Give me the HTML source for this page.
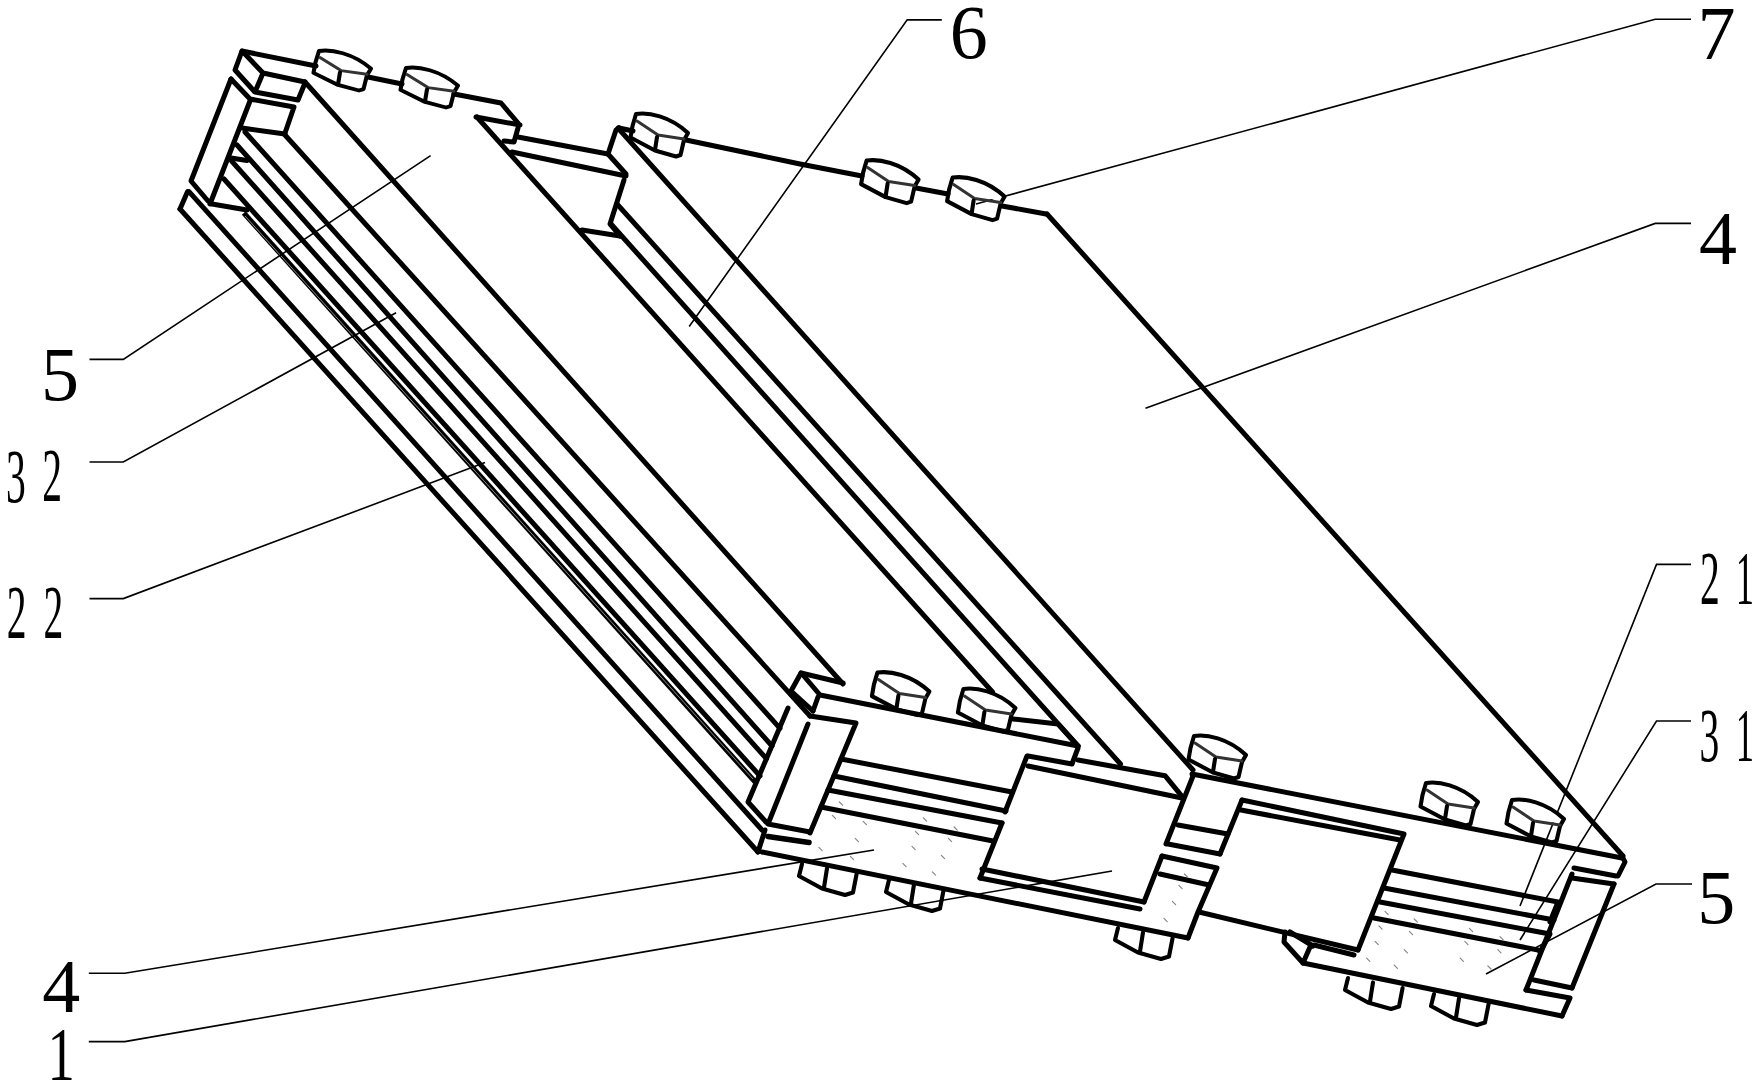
<!DOCTYPE html><html><head><meta charset="utf-8"><style>html,body{margin:0;padding:0;background:#fff;overflow:hidden}svg{display:block}</style></head><body><svg width="1760" height="1090" viewBox="0 0 1760 1090">
<style>.k{fill:none;stroke:#000;stroke-width:5.0;stroke-linecap:round;stroke-linejoin:round}.t{fill:none;stroke:#000;stroke-width:1.6;stroke-linecap:butt;stroke-linejoin:miter}.a3{fill:none;stroke:#000;stroke-width:5.2}.a3s{fill:none;stroke:#999;stroke-width:0.9}.b{fill:none;stroke:#000;stroke-width:4.1;stroke-linejoin:round;stroke-linecap:round}.bi{fill:none;stroke:#333;stroke-width:3.0;stroke-linejoin:round;stroke-linecap:round}.bf{fill:#fff;stroke:none}.h{stroke:#888;stroke-width:1.2;stroke-linecap:round}.lbl{font-family:"Liberation Serif",serif;font-size:76px;fill:#000}</style>
<rect width="100%" height="100%" fill="#fff"/>
<polyline class="k" points="242.0,51.0 316.0,66.0"/>
<polyline class="k" points="242.0,51.0 235.0,70.0 254.0,91.0"/>
<polyline class="k" points="244.0,53.0 263.0,73.0 305.0,82.0"/>
<polyline class="k" points="263.0,73.0 255.0,92.0 298.0,100.0 305.0,83.0"/>
<polyline class="k" points="231.0,79.0 191.0,181.0 208.0,201.0"/>
<polyline class="k" points="231.0,79.0 250.0,99.0 294.0,107.0 285.0,133.0"/>
<polyline class="k" points="242.0,128.0 285.0,134.0"/>
<polyline class="k" points="250.0,101.0 210.0,204.0"/>
<polyline class="k" points="212.0,204.0 247.0,210.0"/>
<polyline class="k" points="231.0,158.0 247.0,160.5"/>
<polyline class="k" points="187.6,191.6 180.0,209.0"/>
<polyline class="k" points="368.0,77.0 402.0,84.0"/>
<polyline class="k" points="454.0,94.0 501.0,103.0 518.0,123.0"/>
<polyline class="k" points="476.0,117.0 520.0,125.0"/>
<polyline class="k" points="518.0,128.0 514.0,142.0 504.0,141.0"/>
<polyline class="k" points="518.0,137.0 608.0,154.0 616.0,130.0 619.0,128.0"/>
<polyline class="k" points="512.0,152.0 626.0,176.0"/>
<polyline class="k" points="608.0,154.0 626.0,174.0"/>
<polyline class="k" points="624.0,180.0 610.0,224.0 620.0,236.0"/>
<polyline class="k" points="582.0,230.0 620.0,236.0"/>
<polyline class="k" points="619.0,128.0 633.0,131.0"/>
<polyline class="k" points="686.0,140.0 800.0,164.0 862.0,176.0"/>
<polyline class="k" points="916.0,188.0 948.0,194.0"/>
<polyline class="k" points="1002.0,206.0 1046.0,214.0"/>
<polyline class="k" points="180.0,209.0 758.0,852.0"/>
<polyline class="k" points="189.0,191.6 762.0,830.0"/>
<polyline class="k" points="224.0,179.0 760.0,776.0"/>
<polyline class="k" points="231.6,161.0 766.4,758.6"/>
<polyline class="k" points="237.0,145.0 772.0,746.0"/>
<polyline class="k" points="245.0,132.0 780.0,728.3"/>
<polyline class="k" points="285.0,135.0 810.0,716.0"/>
<polyline class="k" points="305.0,82.0 843.0,684.0"/>
<polyline class="k" points="476.9,117.0 992.5,692.0"/>
<polyline class="k" points="611.0,224.0 1078.0,746.0"/>
<polyline class="k" points="617.0,204.0 1120.5,764.0"/>
<polyline class="k" points="618.0,128.0 1193.0,770.0"/>
<polyline class="k" points="1047.0,214.0 1623.0,856.0"/>
<polyline class="k" points="801.0,673.0 843.0,683.0"/>
<polyline class="k" points="1013.0,719.0 1058.0,724.0 1078.0,746.0"/>
<polyline class="k" points="801.0,673.0 791.0,691.0 813.0,711.0"/>
<polyline class="k" points="803.0,675.0 820.0,695.0 1078.0,746.0"/>
<polyline class="k" points="1192.0,774.0 1622.0,858.0"/>
<polyline class="k" points="818.0,697.0 813.0,711.0"/>
<polyline class="k" points="810.0,716.0 856.0,723.0 810.0,833.0"/>
<polyline class="k" points="808.0,724.0 768.0,824.0 810.0,832.0"/>
<polyline class="k" points="788.0,708.0 748.0,802.0 766.0,822.0"/>
<polyline class="k" points="765.0,830.0 758.0,852.0"/>
<polyline class="k" points="762.0,852.0 1188.0,938.0"/>
<polyline class="k" points="841.0,759.0 1012.0,792.0"/>
<polyline class="k" points="834.0,776.0 1006.0,811.0"/>
<polyline class="k" points="828.0,790.0 1002.0,823.0"/>
<polyline class="k" points="821.0,807.0 993.0,841.0"/>
<polyline class="k" points="1078.0,748.0 1072.0,764.0 1028.0,756.0"/>
<polyline class="k" points="1027.0,756.0 1005.0,812.0"/>
<polyline class="k" points="1002.0,823.0 980.0,878.0"/>
<polyline class="k" points="1028.0,766.0 1182.0,798.0"/>
<polyline class="k" points="1078.0,760.0 1165.0,775.7 1182.0,796.4"/>
<polyline class="k" points="982.0,869.0 1144.0,902.0"/>
<polyline class="k" points="980.0,878.0 1140.0,909.0"/>
<polyline class="k" points="1193.0,776.0 1166.0,844.0"/>
<polyline class="k" points="1242.0,800.0 1220.0,854.0"/>
<polyline class="k" points="1178.0,825.0 1228.0,834.0"/>
<polyline class="k" points="1168.0,844.0 1220.0,854.0"/>
<polyline class="k" points="1162.0,856.0 1217.0,868.0 1198.0,912.0 1188.0,938.0"/>
<polyline class="k" points="1160.0,874.0 1209.0,885.0"/>
<polyline class="k" points="1162.0,856.0 1144.0,902.0"/>
<polyline class="k" points="1242.0,800.0 1404.0,834.0 1358.0,950.0"/>
<polyline class="k" points="1241.0,810.0 1400.0,840.0"/>
<polyline class="k" points="1199.0,912.0 1358.0,950.0"/>
<polyline class="k" points="1285.0,932.0 1284.0,942.0 1303.0,963.0 1310.0,947.0 1314.0,945.0 1354.0,955.0"/>
<polyline class="k" points="1290.0,932.0 1313.0,946.0"/>
<polyline class="k" points="1303.0,963.0 1562.0,1016.0"/>
<polyline class="k" points="1392.0,870.0 1558.0,902.0 1550.0,922.0"/>
<polyline class="k" points="1384.0,888.0 1554.0,920.0"/>
<polyline class="k" points="1380.0,902.0 1550.0,934.0 1540.0,952.0"/>
<polyline class="k" points="1374.0,918.0 1538.0,950.0"/>
<polyline class="k" points="1622.0,856.0 1625.0,862.0 1618.0,876.0"/>
<polyline class="k" points="1574.0,868.0 1616.0,876.0"/>
<polyline class="k" points="1572.0,878.0 1614.0,884.0"/>
<polyline class="k" points="1572.0,874.0 1526.0,990.0"/>
<polyline class="k" points="1614.0,884.0 1572.0,988.0"/>
<polyline class="k" points="1534.0,980.0 1572.0,988.0"/>
<polyline class="k" points="1526.0,990.0 1570.0,998.0 1562.0,1016.0"/>
<polyline class="a3" points="243.8,213 755.2,782"/>
<polyline class="a3" style="stroke-width:5.6;stroke-linecap:round" points="768,836.5 809,842.5"/>
<polyline class="a3s" points="245,216 753,779"/>
<polyline class="t" points="89.5,359.4 123.3,359.4 430.6,155.6"/>
<polyline class="t" points="89.5,462.0 123.3,462.0 396.1,312.7"/>
<polyline class="t" points="89.5,598.6 123.3,598.6 485.0,462.6"/>
<polyline class="t" points="88.8,973.3 124.8,973.3 874.0,850.0"/>
<polyline class="t" points="88.8,1041.6 124.8,1041.6 1112.0,871.0"/>
<polyline class="t" points="941.8,19.9 907.2,19.9 689.2,326.5"/>
<polyline class="t" points="1691.0,19.3 1655.2,19.3 976.0,204.0"/>
<polyline class="t" points="1691.0,223.4 1655.2,223.4 1145.5,408.2"/>
<polyline class="t" points="1691.0,564.4 1656.5,564.4 1520.0,906.0"/>
<polyline class="t" points="1691.0,721.0 1656.5,721.0 1520.0,940.0"/>
<polyline class="t" points="1692.0,884.0 1656.0,884.0 1486.0,974.0"/>
<line class="h" x1="839.4" y1="802.0" x2="842.6" y2="805.2"/>
<line class="h" x1="832.4" y1="815.4" x2="835.6" y2="818.6"/>
<line class="h" x1="863.2" y1="821.4" x2="866.4" y2="824.6"/>
<line class="h" x1="923.4" y1="817.9" x2="926.6" y2="821.1"/>
<line class="h" x1="954.1" y1="827.0" x2="957.3" y2="830.2"/>
<line class="h" x1="915.4" y1="831.4" x2="918.6" y2="834.6"/>
<line class="h" x1="855.2" y1="838.4" x2="858.4" y2="841.6"/>
<line class="h" x1="818.9" y1="847.4" x2="822.1" y2="850.6"/>
<line class="h" x1="912.0" y1="846.4" x2="915.2" y2="849.6"/>
<line class="h" x1="941.4" y1="855.4" x2="944.6" y2="858.6"/>
<line class="h" x1="902.9" y1="863.4" x2="906.1" y2="866.6"/>
<line class="h" x1="932.4" y1="871.9" x2="935.6" y2="875.1"/>
<line class="h" x1="850.4" y1="856.4" x2="853.6" y2="859.6"/>
<line class="h" x1="948.4" y1="838.4" x2="951.6" y2="841.6"/>
<line class="h" x1="1184.4" y1="874.0" x2="1187.6" y2="877.2"/>
<line class="h" x1="1178.9" y1="885.4" x2="1182.1" y2="888.6"/>
<line class="h" x1="1172.4" y1="901.4" x2="1175.6" y2="904.6"/>
<line class="h" x1="1164.0" y1="918.4" x2="1167.2" y2="921.6"/>
<line class="h" x1="1385.0" y1="911.4" x2="1388.2" y2="914.6"/>
<line class="h" x1="1414.2" y1="919.0" x2="1417.4" y2="922.2"/>
<line class="h" x1="1378.9" y1="925.9" x2="1382.1" y2="929.1"/>
<line class="h" x1="1409.4" y1="931.4" x2="1412.6" y2="934.6"/>
<line class="h" x1="1469.4" y1="928.4" x2="1472.6" y2="931.6"/>
<line class="h" x1="1500.0" y1="936.7" x2="1503.2" y2="939.9"/>
<line class="h" x1="1375.1" y1="941.4" x2="1378.3" y2="944.6"/>
<line class="h" x1="1404.2" y1="949.7" x2="1407.4" y2="952.9"/>
<line class="h" x1="1464.8" y1="941.4" x2="1468.0" y2="944.6"/>
<line class="h" x1="1497.8" y1="949.7" x2="1501.0" y2="952.9"/>
<line class="h" x1="1366.6" y1="958.2" x2="1369.8" y2="961.4"/>
<line class="h" x1="1460.2" y1="958.2" x2="1463.4" y2="961.4"/>
<line class="h" x1="1394.2" y1="965.1" x2="1397.4" y2="968.3"/>
<line class="h" x1="1487.8" y1="965.8" x2="1491.0" y2="969.0"/>
<g transform="translate(319,51) scale(1,0.93)"><path class="bf" d="M1,7 L0,0 C12,-2 34,2 52,19 L48,25 Z"/><path class="b" d="M0,0 C12,-2 34,2 52,19 L48,26 L44.5,41 L40,42.5 L19,36.5 L-5.5,23.5 L-3.5,12 Z"/><path class="bi" d="M1,7 L22,21 L48,25"/><path class="b" d="M21,23 L19,36"/></g>
<g transform="translate(406,68) scale(1,0.93)"><path class="bf" d="M1,7 L0,0 C12,-2 34,2 52,19 L48,25 Z"/><path class="b" d="M0,0 C12,-2 34,2 52,19 L48,26 L44.5,41 L40,42.5 L19,36.5 L-5.5,23.5 L-3.5,12 Z"/><path class="bi" d="M1,7 L22,21 L48,25"/><path class="b" d="M21,23 L19,36"/></g>
<g transform="translate(636,114) scale(1,1.0)"><path class="bf" d="M1,7 L0,0 C12,-2 34,2 52,19 L48,25 Z"/><path class="b" d="M0,0 C12,-2 34,2 52,19 L48,26 L44.5,41 L40,42.5 L19,36.5 L-5.5,23.5 L-3.5,12 Z"/><path class="bi" d="M1,7 L22,21 L48,25"/><path class="b" d="M21,23 L19,36"/></g>
<g transform="translate(866.6,160.6) scale(1,1.0)"><path class="bf" d="M1,7 L0,0 C12,-2 34,2 52,19 L48,25 Z"/><path class="b" d="M0,0 C12,-2 34,2 52,19 L48,26 L44.5,41 L40,42.5 L19,36.5 L-5.5,23.5 L-3.5,12 Z"/><path class="bi" d="M1,7 L22,21 L48,25"/><path class="b" d="M21,23 L19,36"/></g>
<g transform="translate(952.6,177.6) scale(1,1.0)"><path class="bf" d="M1,7 L0,0 C12,-2 34,2 52,19 L48,25 Z"/><path class="b" d="M0,0 C12,-2 34,2 52,19 L48,26 L44.5,41 L40,42.5 L19,36.5 L-5.5,23.5 L-3.5,12 Z"/><path class="bi" d="M1,7 L22,21 L48,25"/><path class="b" d="M21,23 L19,36"/></g>
<g transform="translate(877.4,672.6) scale(1,1.0)"><path class="bf" d="M1,7 L0,0 C12,-2 34,2 52,19 L48,25 Z"/><path class="b" d="M0,0 C12,-2 34,2 52,19 L48,26 L44.5,41 L40,42.5 L19,36.5 L-5.5,23.5 L-3.5,12 Z"/><path class="bi" d="M1,7 L22,21 L48,25"/><path class="b" d="M21,23 L19,36"/></g>
<g transform="translate(963.4,689) scale(1,1.0)"><path class="bf" d="M1,7 L0,0 C12,-2 34,2 52,19 L48,25 Z"/><path class="b" d="M0,0 C12,-2 34,2 52,19 L48,26 L44.5,41 L40,42.5 L19,36.5 L-5.5,23.5 L-3.5,12 Z"/><path class="bi" d="M1,7 L22,21 L48,25"/><path class="b" d="M21,23 L19,36"/></g>
<g transform="translate(1194,736) scale(1,1.0)"><path class="bf" d="M1,7 L0,0 C12,-2 34,2 52,19 L48,25 Z"/><path class="b" d="M0,0 C12,-2 34,2 52,19 L48,26 L44.5,41 L40,42.5 L19,36.5 L-5.5,23.5 L-3.5,12 Z"/><path class="bi" d="M1,7 L22,21 L48,25"/><path class="b" d="M21,23 L19,36"/></g>
<g transform="translate(1426,783) scale(1,1.0)"><path class="bf" d="M1,7 L0,0 C12,-2 34,2 52,19 L48,25 Z"/><path class="b" d="M0,0 C12,-2 34,2 52,19 L48,26 L44.5,41 L40,42.5 L19,36.5 L-5.5,23.5 L-3.5,12 Z"/><path class="bi" d="M1,7 L22,21 L48,25"/><path class="b" d="M21,23 L19,36"/></g>
<g transform="translate(1512,800) scale(1,1.0)"><path class="bf" d="M1,7 L0,0 C12,-2 34,2 52,19 L48,25 Z"/><path class="b" d="M0,0 C12,-2 34,2 52,19 L48,26 L44.5,41 L40,42.5 L19,36.5 L-5.5,23.5 L-3.5,12 Z"/><path class="bi" d="M1,7 L22,21 L48,25"/><path class="b" d="M21,23 L19,36"/></g>
<g transform="translate(802,864)"><path class="b" d="M0,0 L-3,12 L20,24.5 L43,31 L51,28.5 L54.6,10"/><path class="b" d="M25,4.4 L22,23.4"/></g>
<g transform="translate(889,880)"><path class="b" d="M0,0 L-3,12 L20,24.5 L43,31 L51,28.5 L54.6,10"/><path class="b" d="M25,4.4 L22,23.4"/></g>
<g transform="translate(1118,928)"><path class="b" d="M0,0 L-3,12 L20,24.5 L43,31 L51,28.5 L54.6,10"/><path class="b" d="M25,4.4 L22,23.4"/></g>
<g transform="translate(1348,978)"><path class="b" d="M0,0 L-3,12 L20,24.5 L43,31 L51,28.5 L54.6,10"/><path class="b" d="M25,4.4 L22,23.4"/></g>
<g transform="translate(1434,994)"><path class="b" d="M0,0 L-3,12 L20,24.5 L43,31 L51,28.5 L54.6,10"/><path class="b" d="M25,4.4 L22,23.4"/></g>
<text class="lbl" transform="translate(41.00,399.80) scale(1,1)" x="0" y="0">5</text>
<text class="lbl" transform="translate(6.00,502.20) scale(0.52,1)" x="0" y="0">3</text>
<text class="lbl" transform="translate(42.32,501.24) scale(0.52,1)" x="0" y="0">2</text>
<text class="lbl" transform="translate(6.76,638.00) scale(0.52,1)" x="0" y="0">2</text>
<text class="lbl" transform="translate(43.44,638.00) scale(0.52,1)" x="0" y="0">2</text>
<text class="lbl" transform="translate(42.32,1012.00) scale(1,1)" x="0" y="0">4</text>
<text class="lbl" transform="translate(47.40,1080.00) scale(0.72,1)" x="0" y="0">1</text>
<text class="lbl" transform="translate(949.84,58.20) scale(1,1)" x="0" y="0">6</text>
<text class="lbl" transform="translate(1697.44,59.00) scale(1,1)" x="0" y="0">7</text>
<text class="lbl" transform="translate(1699.04,264.40) scale(1,1)" x="0" y="0">4</text>
<text class="lbl" transform="translate(1700.08,604.48) scale(0.52,1)" x="0" y="0">2</text>
<text class="lbl" transform="translate(1735.80,604.48) scale(0.48,1)" x="0" y="0">1</text>
<text class="lbl" transform="translate(1699.44,761.20) scale(0.52,1)" x="0" y="0">3</text>
<text class="lbl" transform="translate(1735.80,761.00) scale(0.48,1)" x="0" y="0">1</text>
<text class="lbl" transform="translate(1697.20,923.20) scale(1,1)" x="0" y="0">5</text>
</svg></body></html>
